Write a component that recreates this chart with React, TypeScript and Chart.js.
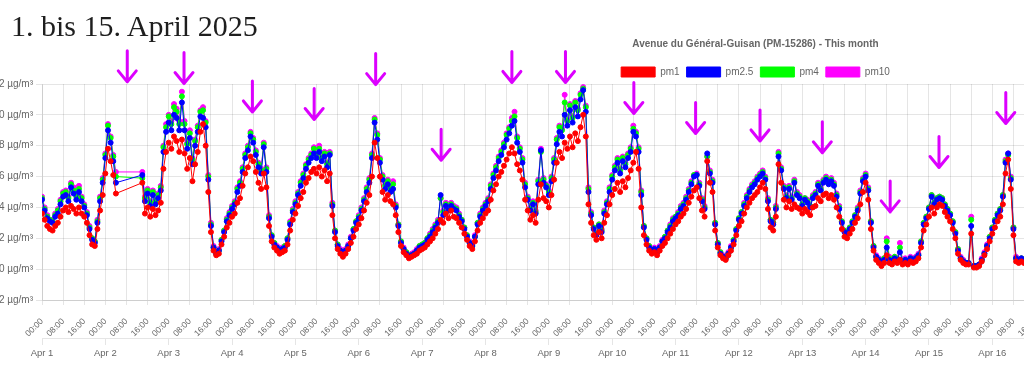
import React, { useEffect, useRef } from 'react';
import { Chart, registerables } from 'chart.js';

Chart.register(...registerables);

const pageTitle = '1. bis 15. April 2025';
const chartTitle = 'Avenue du Général-Guisan (PM-15286) - This month';
const seriesNames = ['pm1', 'pm2.5', 'pm4', 'pm10'];
const seriesColors = ['#ff0000', '#0000ff', '#00ff00', '#ff00ff'];
const hourLabels = ['00:00', '08:00', '16:00'];
const dayLabels = ['Apr 1', 'Apr 2', 'Apr 3', 'Apr 4', 'Apr 5', 'Apr 6', 'Apr 7', 'Apr 8', 'Apr 9', 'Apr 10',
  'Apr 11', 'Apr 12', 'Apr 13', 'Apr 14', 'Apr 15', 'Apr 16', 'Apr 17', 'Apr 18', 'Apr 19', 'Apr 20',
  'Apr 21', 'Apr 22', 'Apr 23', 'Apr 24'];
const yTicks = { min: -2, max: 12, step: 2, unit: 'µg/m³' };

// hourly values from Apr 1 00:00 (one line per day)
const pm1 = [
  3.6, 3.2, 2.8, 2.6, 2.5, 2.8, 3.0, 3.4, 3.8, 4.0, 3.7, 4.1, 3.9, 3.6, 4.0, 3.6, 3.4, 3.0, 2.2, 1.6, 1.5, 2.6, 3.8, 4.8,
  6.2, 7.8, 7.0, 6.1, 4.9, null, null, null, null, null, null, null, null, null, 5.6, 3.6, 4.0, 3.4, 3.9, 3.5, 3.8, 4.3, 6.5, 7.6,
  8.2, 7.8, 8.6, 8.3, 7.6, 8.4, 7.5, 6.5, 7.2, 5.7, 6.8, 7.6, 8.9, 9.4, 8.0, 5.0, 2.4, 1.2, 0.9, 1.0, 1.6, 2.1, 2.7, 3.0,
  3.4, 3.6, 4.3, 4.6, 5.4, 6.2, 6.6, 7.3, 7.0, 6.3, 5.6, 5.2, 6.2, 5.3, 2.8, 1.8, 1.4, 1.2, 1.0, 1.1, 1.2, 1.6, 2.5, 3.2,
  3.6, 4.1, 4.6, 5.0, 5.6, 5.9, 6.3, 6.5, 6.2, 6.6, 6.0, 6.4, 5.7, 6.2, 3.5, 2.0, 1.3, 1.0, 0.8, 1.0, 1.3, 1.7, 2.1, 2.6,
  2.9, 3.3, 3.8, 4.3, 4.8, 6.0, 8.2, 7.2, 6.0, 5.0, 4.5, 4.8, 4.4, 4.2, 3.5, 2.4, 1.5, 1.1, 0.9, 0.7, 0.8, 0.9, 1.0, 1.2,
  1.3, 1.4, 1.6, 1.8, 2.0, 2.3, 2.6, 3.2, 3.0, 3.6, 3.3, 3.8, 3.4, 3.3, 3.0, 2.7, 2.3, 1.9, 1.5, 1.3, 1.8, 2.5, 3.0, 3.3,
  3.6, 3.8, 4.5, 5.1, 5.5, 6.0, 6.3, 6.7, 7.1, 7.5, 7.9, 7.5, 6.8, 6.4, 5.8, 4.5, 3.8, 3.2, 3.5, 3.0, 4.5, 5.5, 4.6, 4.4,
  4.0, 4.8, 5.8, 6.9, 7.6, 7.2, 8.2, 7.8, 8.6, 7.9, 8.8, 8.3, 9.2, 10.0, 8.6, 4.2, 3.0, 2.2, 1.9, 2.4, 2.0, 3.0, 3.5, 4.2,
  4.8, 5.2, 5.6, 5.0, 5.7, 5.3, 5.9, 6.4, 6.9, 7.6, 6.5, 4.0, 2.2, 1.6, 1.2, 1.0, 1.1, 0.9, 1.2, 1.5, 1.7, 2.0, 2.3, 2.6,
  2.9, 3.1, 3.4, 3.6, 3.9, 4.3, 4.7, 5.1, 5.3, 4.6, 3.8, 3.4, 7.0, 5.6, 5.0, 2.5, 1.4, 0.9, 0.7, 0.6, 0.9, 1.2, 1.6, 2.2,
  2.8, 3.1, 3.6, 4.0, 4.3, 4.6, 4.8, 5.0, 5.3, 5.6, 5.2, 3.9, 2.7, 2.5, 3.4, 6.8, 5.6, 4.5, 4.0, 4.4, 3.9, 4.2, 4.0, 3.9,
  3.6, 3.9, 3.7, 3.5, 4.0, 4.1, 4.6, 4.4, 4.8, 4.9, 4.6, 4.8, 4.5, 4.0, 3.4, 2.6, 2.1, 2.0, 2.3, 2.6, 3.0, 3.3, 4.2, 5.0,
  5.6, 4.5, 2.6, 1.2, 0.6, 0.4, 0.2, 0.4, 0.9, 0.4, 0.3, 0.5, 0.4, 0.6, 0.3, 0.4, 0.3, 0.5, 0.4, 0.5, 0.7, 1.4, 2.5, 2.9,
  3.4, 4.0, 3.6, 4.0, 4.2, 4.1, 3.7, 3.4, 3.1, 2.6, 2.0, 1.0, 0.6, 0.4, 0.3, 0.3, 2.3, 0.1, 0.1, 0.2, 0.5, 0.9, 1.3, 1.8,
  2.3, 2.7, 3.1, 3.4, 4.2, 6.2, 7.1, 5.2, 2.2, 0.5, 0.4, 0.5, 0.4, 0.3,
];

const pm25 = [
  4.5, 3.8, 3.3, 3.1, 3.0, 3.4, 3.6, 4.2, 4.7, 4.8, 4.4, 5.3, 4.9, 4.5, 5.0, 4.4, 4.0, 3.5, 2.6, 1.9, 1.7, 3.0, 4.4, 5.6,
  7.2, 9.0, 8.2, 7.0, 5.6, null, null, null, null, null, null, null, null, null, 6.1, 4.4, 4.9, 4.1, 4.8, 4.2, 4.6, 5.1, 7.6, 8.9,
  9.5, 9.0, 10.0, 9.8, 9.0, 10.8, 9.0, 7.8, 8.5, 6.8, 8.0, 8.9, 9.9, 9.8, 9.2, 5.8, 2.8, 1.4, 1.0, 1.2, 1.8, 2.4, 3.1, 3.5,
  3.9, 4.2, 5.0, 5.4, 6.3, 7.2, 7.7, 8.6, 8.2, 7.4, 6.6, 6.2, 7.9, 6.3, 3.3, 2.1, 1.6, 1.4, 1.2, 1.3, 1.4, 1.9, 2.9, 3.7,
  4.2, 4.8, 5.4, 5.9, 6.5, 6.9, 7.2, 7.5, 7.2, 7.6, 7.0, 7.3, 6.6, 7.4, 4.1, 2.4, 1.5, 1.2, 1.0, 1.2, 1.5, 2.0, 2.5, 3.0,
  3.3, 3.8, 4.4, 5.0, 5.6, 7.2, 9.5, 8.4, 6.9, 5.8, 5.2, 5.5, 5.0, 5.2, 4.0, 2.8, 1.7, 1.3, 1.0, 0.8, 0.9, 1.0, 1.2, 1.4,
  1.5, 1.6, 1.9, 2.1, 2.4, 2.7, 3.0, 4.8, 3.5, 4.1, 3.8, 4.1, 3.9, 3.8, 3.4, 3.1, 2.6, 2.1, 1.7, 1.5, 2.1, 2.9, 3.4, 3.8,
  4.1, 4.4, 5.2, 5.9, 6.4, 7.0, 7.4, 7.9, 8.4, 8.8, 9.3, 9.6, 8.2, 7.6, 6.9, 5.3, 4.5, 3.8, 4.2, 3.6, 5.5, 7.7, 5.6, 5.3,
  4.8, 5.7, 6.9, 8.1, 8.9, 8.6, 10.0, 9.3, 10.3, 9.5, 10.5, 9.9, 11.0, 11.6, 10.2, 5.0, 3.5, 2.6, 2.2, 2.8, 2.4, 3.6, 4.2, 5.0,
  5.8, 6.4, 6.9, 6.2, 7.0, 6.6, 7.2, 7.6, 8.9, 8.6, 7.6, 4.8, 2.7, 1.9, 1.4, 1.2, 1.3, 1.1, 1.4, 1.8, 2.0, 2.4, 2.7, 3.1,
  3.3, 3.5, 3.9, 4.1, 4.5, 5.0, 5.5, 6.0, 6.1, 5.4, 4.4, 3.9, 7.5, 6.2, 5.6, 2.9, 1.6, 1.0, 0.8, 0.7, 1.0, 1.4, 1.8, 2.5,
  3.2, 3.6, 4.1, 4.6, 5.0, 5.3, 5.5, 5.8, 6.0, 6.2, 5.8, 4.4, 3.1, 2.9, 3.9, 7.3, 6.4, 5.2, 4.6, 5.2, 4.5, 5.6, 4.8, 4.6,
  4.1, 4.5, 4.3, 4.0, 4.6, 4.8, 5.4, 5.1, 5.6, 5.8, 5.5, 5.7, 5.4, 4.7, 3.9, 3.0, 2.4, 2.3, 2.6, 3.0, 3.4, 3.8, 4.9, 5.7,
  6.0, 5.1, 3.0, 1.4, 0.8, 0.6, 0.4, 0.6, 1.4, 0.6, 0.5, 0.7, 0.6, 1.1, 0.5, 0.6, 0.5, 0.7, 0.6, 0.7, 0.9, 1.7, 2.9, 3.3,
  3.9, 4.7, 4.2, 4.5, 4.6, 4.5, 4.1, 3.8, 3.5, 3.0, 2.3, 1.2, 0.7, 0.5, 0.4, 0.4, 2.8, 0.2, 0.2, 0.3, 0.6, 1.0, 1.5, 2.0,
  2.6, 3.1, 3.5, 3.8, 4.7, 6.9, 7.5, 5.8, 2.6, 0.7, 0.6, 0.7, 0.6, 0.5,
];

const pm4 = [
  4.6, 3.9, 3.4, 3.2, 3.1, 3.5, 3.8, 4.4, 4.9, 5.0, 4.6, 5.5, 5.1, 4.7, 5.2, 4.6, 4.1, 3.6, 2.7, 2.0, 1.8, 3.1, 4.6, 5.8,
  7.4, 9.3, 8.5, 7.3, 6.0, null, null, null, null, null, null, null, null, null, 5.9, 4.6, 5.1, 4.3, 5.0, 4.4, 4.8, 5.3, 7.9, 9.2,
  9.9, 9.4, 10.5, 10.2, 9.4, 11.2, 9.4, 8.1, 8.8, 7.1, 8.3, 9.2, 10.2, 10.3, 9.5, 6.0, 2.9, 1.4, 1.0, 1.2, 1.9, 2.5, 3.2, 3.6,
  4.0, 4.3, 5.2, 5.6, 6.5, 7.4, 7.9, 8.8, 8.4, 7.6, 6.8, 6.4, 8.1, 6.5, 3.4, 2.2, 1.7, 1.4, 1.2, 1.3, 1.5, 2.0, 3.0, 3.8,
  4.3, 4.9, 5.6, 6.1, 6.7, 7.1, 7.4, 7.8, 7.4, 7.8, 7.2, 7.5, 6.8, 7.5, 4.2, 2.5, 1.6, 1.2, 1.0, 1.2, 1.5, 2.0, 2.6, 3.1,
  3.4, 3.9, 4.5, 5.2, 5.8, 7.4, 9.7, 8.7, 7.1, 6.0, 5.4, 5.7, 5.2, 5.5, 4.1, 2.9, 1.8, 1.3, 1.1, 0.9, 0.9, 1.0, 1.2, 1.5,
  1.6, 1.7, 2.0, 2.2, 2.5, 2.8, 3.1, 4.6, 3.7, 4.2, 3.9, 4.2, 4.0, 3.9, 3.5, 3.2, 2.7, 2.2, 1.7, 1.5, 2.1, 3.0, 3.5, 3.9,
  4.2, 4.5, 5.4, 6.1, 6.6, 7.2, 7.6, 8.1, 8.7, 9.1, 9.6, 9.9, 8.5, 7.8, 7.1, 5.5, 4.6, 3.9, 4.3, 3.7, 5.7, 7.6, 5.8, 5.4,
  5.0, 5.9, 7.1, 8.4, 9.2, 9.0, 10.8, 9.6, 10.6, 9.8, 10.8, 10.3, 11.3, 11.7, 10.5, 5.2, 3.6, 2.7, 2.3, 2.9, 2.5, 3.7, 4.3, 5.2,
  6.0, 6.6, 7.1, 6.4, 7.2, 6.8, 7.4, 7.8, 9.1, 8.8, 7.8, 5.0, 2.8, 2.0, 1.5, 1.2, 1.3, 1.1, 1.4, 1.8, 2.1, 2.5, 2.8, 3.2,
  3.4, 3.6, 4.0, 4.2, 4.6, 5.1, 5.6, 6.1, 6.1, 5.5, 4.5, 4.0, 7.3, 6.3, 5.7, 3.0, 1.7, 1.1, 0.8, 0.7, 1.0, 1.4, 1.9, 2.6,
  3.3, 3.7, 4.2, 4.7, 5.1, 5.4, 5.6, 5.9, 6.1, 6.3, 5.9, 4.5, 3.2, 3.0, 4.0, 7.5, 6.5, 5.3, 4.7, 5.3, 4.6, 5.7, 4.9, 4.7,
  4.2, 4.6, 4.4, 4.1, 4.7, 4.9, 5.5, 5.2, 5.7, 5.9, 5.6, 5.8, 5.5, 4.8, 4.0, 3.1, 2.5, 2.4, 2.7, 3.1, 3.5, 3.9, 5.0, 5.8,
  6.1, 5.2, 3.1, 1.5, 0.8, 0.6, 0.4, 0.7, 1.8, 0.7, 0.5, 0.8, 0.6, 1.4, 0.5, 0.6, 0.5, 0.7, 0.6, 0.7, 0.9, 1.8, 3.0, 3.4,
  4.0, 4.8, 4.3, 4.6, 4.7, 4.6, 4.2, 3.9, 3.6, 3.1, 2.4, 1.3, 0.7, 0.5, 0.4, 0.4, 3.2, 0.2, 0.2, 0.3, 0.6, 1.0, 1.5, 2.1,
  2.7, 3.2, 3.6, 3.9, 4.8, 7.0, 7.4, 5.9, 2.7, 0.7, 0.6, 0.7, 0.6, 0.5,
];

const pm10 = [
  4.7, 4.0, 3.5, 3.2, 3.2, 3.6, 3.9, 4.5, 5.0, 5.1, 4.7, 5.6, 5.3, 4.8, 5.4, 4.7, 4.2, 3.7, 2.8, 2.0, 1.8, 3.2, 4.7, 5.9,
  7.5, 9.4, 8.6, 7.4, 6.3, null, null, null, null, null, null, null, null, null, 6.3, 4.7, 5.2, 4.4, 5.1, 4.5, 4.9, 5.4, 8.0, 9.4,
  10.0, 9.6, 10.7, 10.4, 9.6, 11.5, 9.6, 8.2, 9.0, 7.2, 8.4, 9.3, 10.3, 10.5, 9.6, 6.1, 3.0, 1.5, 1.1, 1.3, 1.9, 2.5, 3.3, 3.7,
  4.1, 4.4, 5.3, 5.7, 6.6, 7.5, 8.0, 8.9, 8.5, 7.7, 6.9, 6.5, 8.2, 6.6, 3.5, 2.2, 1.7, 1.5, 1.3, 1.4, 1.5, 2.0, 3.1, 3.9,
  4.4, 5.0, 5.7, 6.2, 6.8, 7.2, 7.5, 7.9, 7.5, 8.0, 7.3, 7.6, 6.9, 7.6, 4.3, 2.5, 1.6, 1.3, 1.1, 1.3, 1.6, 2.1, 2.6, 3.1,
  3.5, 4.0, 4.6, 5.3, 5.9, 7.5, 9.8, 8.8, 7.2, 6.1, 5.5, 5.8, 5.3, 5.7, 4.2, 2.9, 1.8, 1.4, 1.1, 0.9, 1.0, 1.1, 1.3, 1.5,
  1.6, 1.7, 2.0, 2.3, 2.6, 2.9, 3.2, 4.6, 3.8, 4.3, 4.0, 4.3, 4.1, 4.0, 3.6, 3.2, 2.7, 2.2, 1.8, 1.6, 2.2, 3.0, 3.6, 4.0,
  4.3, 4.6, 5.5, 6.2, 6.7, 7.3, 7.7, 8.2, 8.8, 9.2, 9.8, 10.2, 8.6, 7.9, 7.2, 5.6, 4.7, 4.0, 4.4, 3.8, 5.8, 7.8, 5.9, 5.5,
  5.1, 6.0, 7.2, 8.5, 9.3, 9.1, 11.3, 9.7, 10.7, 9.9, 10.9, 10.4, 11.4, 11.8, 10.6, 5.3, 3.7, 2.7, 2.3, 2.9, 2.6, 3.8, 4.4, 5.3,
  6.1, 6.7, 7.2, 6.5, 7.3, 6.9, 7.5, 7.9, 9.3, 8.9, 7.9, 5.1, 2.8, 2.0, 1.5, 1.3, 1.4, 1.2, 1.5, 1.9, 2.1, 2.5, 2.9, 3.3,
  3.4, 3.7, 4.1, 4.3, 4.7, 5.2, 5.7, 6.1, 6.2, 5.6, 4.6, 4.1, 7.3, 6.4, 5.8, 3.0, 1.7, 1.1, 0.9, 0.8, 1.1, 1.5, 1.9, 2.6,
  3.3, 3.7, 4.3, 4.8, 5.2, 5.5, 5.7, 6.0, 6.2, 6.4, 6.0, 4.6, 3.2, 3.0, 4.1, 7.6, 6.6, 5.4, 4.8, 5.4, 4.7, 5.8, 5.0, 4.8,
  4.2, 4.6, 4.5, 4.1, 4.8, 5.0, 5.6, 5.3, 5.8, 6.0, 5.7, 5.9, 5.6, 4.9, 4.1, 3.1, 2.5, 2.4, 2.7, 3.1, 3.5, 4.0, 5.1, 5.9,
  6.2, 5.3, 3.1, 1.5, 0.9, 0.7, 0.5, 0.7, 2.0, 0.8, 0.6, 0.8, 0.7, 1.7, 0.6, 0.7, 0.6, 0.8, 0.7, 0.8, 1.0, 1.8, 3.0, 3.4,
  4.0, 4.8, 4.3, 4.6, 4.7, 4.6, 4.2, 3.9, 3.6, 3.1, 2.4, 1.3, 0.8, 0.6, 0.4, 0.4, 3.4, 0.2, 0.2, 0.3, 0.7, 1.1, 1.6, 2.1,
  2.7, 3.2, 3.6, 3.9, 4.8, 7.1, 7.5, 6.0, 2.7, 0.8, 0.6, 0.7, 0.6, 0.5,
];

// hand-drawn arrows: hour of the tip (from Apr 1 00:00) and tip value
const arrowHours = [32.3, 53.8, 79.7, 103.1, 126.4, 151.2, 178.0, 198.3, 224.2, 247.6, 272.0, 295.6, 321.3, 339.8, 365.1];
const arrowTips = [12.14, 12.03, 10.19, 9.7, 11.96, 7.06, 12.1, 12.1, 10.09, 8.79, 8.31, 7.54, 3.71, 6.59, 9.44];

const seriesValues = [pm1, pm25, pm4, pm10];
const X_MAX = 560;
const FONT = "'Liberation Sans', Arial, Helvetica, sans-serif";
const GRID = 'rgba(0,0,0,0.1)';

const arrowPlugin = {
  id: 'handArrows',
  afterDraw(chart: any) {
    const { ctx } = chart;
    const xs = chart.scales.x;
    const ys = chart.scales.y;
    ctx.save();
    ctx.strokeStyle = '#dc00ff';
    ctx.lineWidth = 3;
    ctx.lineCap = 'round';
    ctx.lineJoin = 'round';
    arrowHours.forEach((h, i) => {
      const px = xs.getPixelForValue(h);
      const py = ys.getPixelForValue(arrowTips[i]);
      ctx.beginPath();
      ctx.moveTo(px, py - 31);
      ctx.lineTo(px, py);
      ctx.moveTo(px - 9, py - 11);
      ctx.lineTo(px, py);
      ctx.lineTo(px + 9, py - 11);
      ctx.stroke();
    });
    ctx.restore();
  },
};

export default function App() {
  const ref = useRef<HTMLCanvasElement | null>(null);

  useEffect(() => {
    if (!ref.current) return;
    const chart = new Chart(ref.current, {
      type: 'line',
      data: {
        datasets: seriesNames.map((name, k) => ({
          label: name,
          data: seriesValues[k].map((v, i) => ({ x: i, y: v })),
          borderColor: seriesColors[k],
          backgroundColor: seriesColors[k],
          pointBackgroundColor: seriesColors[k],
          pointBorderColor: seriesColors[k],
          borderWidth: 1,
          pointRadius: 2.5,
          pointBorderWidth: 1,
          tension: 0,
          fill: false,
          spanGaps: true,
        })),
      },
      options: {
        responsive: false,
        animation: false,
        devicePixelRatio: 1,
        events: [],
        layout: { padding: 0 },
        plugins: {
          title: {
            display: true,
            text: chartTitle,
            color: '#666',
            font: { family: FONT, size: 10, weight: 'bold' },
            padding: { top: 38.4, bottom: 9.6 },
          },
          legend: {
            display: true,
            maxHeight: 24,
            labels: {
              boxWidth: 34,
              boxHeight: 10,
              padding: 7,
              color: '#666',
              font: { family: FONT, size: 10 },
            },
          },
          tooltip: { enabled: false },
        },
        scales: {
          x: {
            type: 'linear',
            position: 'bottom',
            min: 0,
            max: X_MAX,
            afterFit: (s: any) => { s.height = 38; },
            grid: { color: GRID, tickLength: 5 },
            border: { color: GRID },
            ticks: {
              stepSize: 8,
              autoSkip: false,
              minRotation: 45,
              maxRotation: 45,
              padding: 11.5,
              color: '#666',
              font: { family: FONT, size: 8.5 },
              callback: (v: any) => (v % 8 === 0 ? hourLabels[(v % 24) / 8] : ''),
            },
          },
          x2: {
            type: 'linear',
            position: 'bottom',
            weight: 1,
            min: 0,
            max: X_MAX,
            grid: { drawOnChartArea: false, color: GRID, tickLength: 7 },
            border: { color: GRID },
            ticks: {
              stepSize: 24,
              autoSkip: false,
              minRotation: 0,
              maxRotation: 0,
              padding: 2.3,
              color: '#666',
              font: { family: FONT, size: 9.5 },
              callback: (v: any) => (v % 24 === 0 ? dayLabels[v / 24] : ''),
            },
          },
          y: {
            min: yTicks.min,
            max: yTicks.max,
            afterFit: (s: any) => { s.width = 70; },
            grid: { color: GRID, tickLength: 6 },
            border: { color: GRID },
            ticks: {
              stepSize: yTicks.step,
              padding: 3,
              color: '#666',
              font: { family: FONT, size: 10 },
              callback: (v: any) => `${v} ${yTicks.unit}`,
            },
          },
        },
      },
      plugins: [arrowPlugin],
    } as any);
    return () => chart.destroy();
  }, []);

  return (
    <div style={{ position: 'fixed', left: 0, top: 0, width: 1024, height: 374, overflow: 'hidden', background: '#fff' }}>
      <canvas
        ref={ref}
        width={1567}
        height={361}
        style={{ position: 'absolute', left: -28, top: 0, width: 1567, height: 361 }}
      />
      <div
        style={{
          position: 'absolute',
          left: 11,
          top: 11,
          fontFamily: "'Liberation Serif', 'DejaVu Serif', serif",
          fontSize: 30,
          lineHeight: '30px',
          color: '#1e1e1e',
          whiteSpace: 'nowrap',
        }}
      >
        {pageTitle}
      </div>
    </div>
  );
}
